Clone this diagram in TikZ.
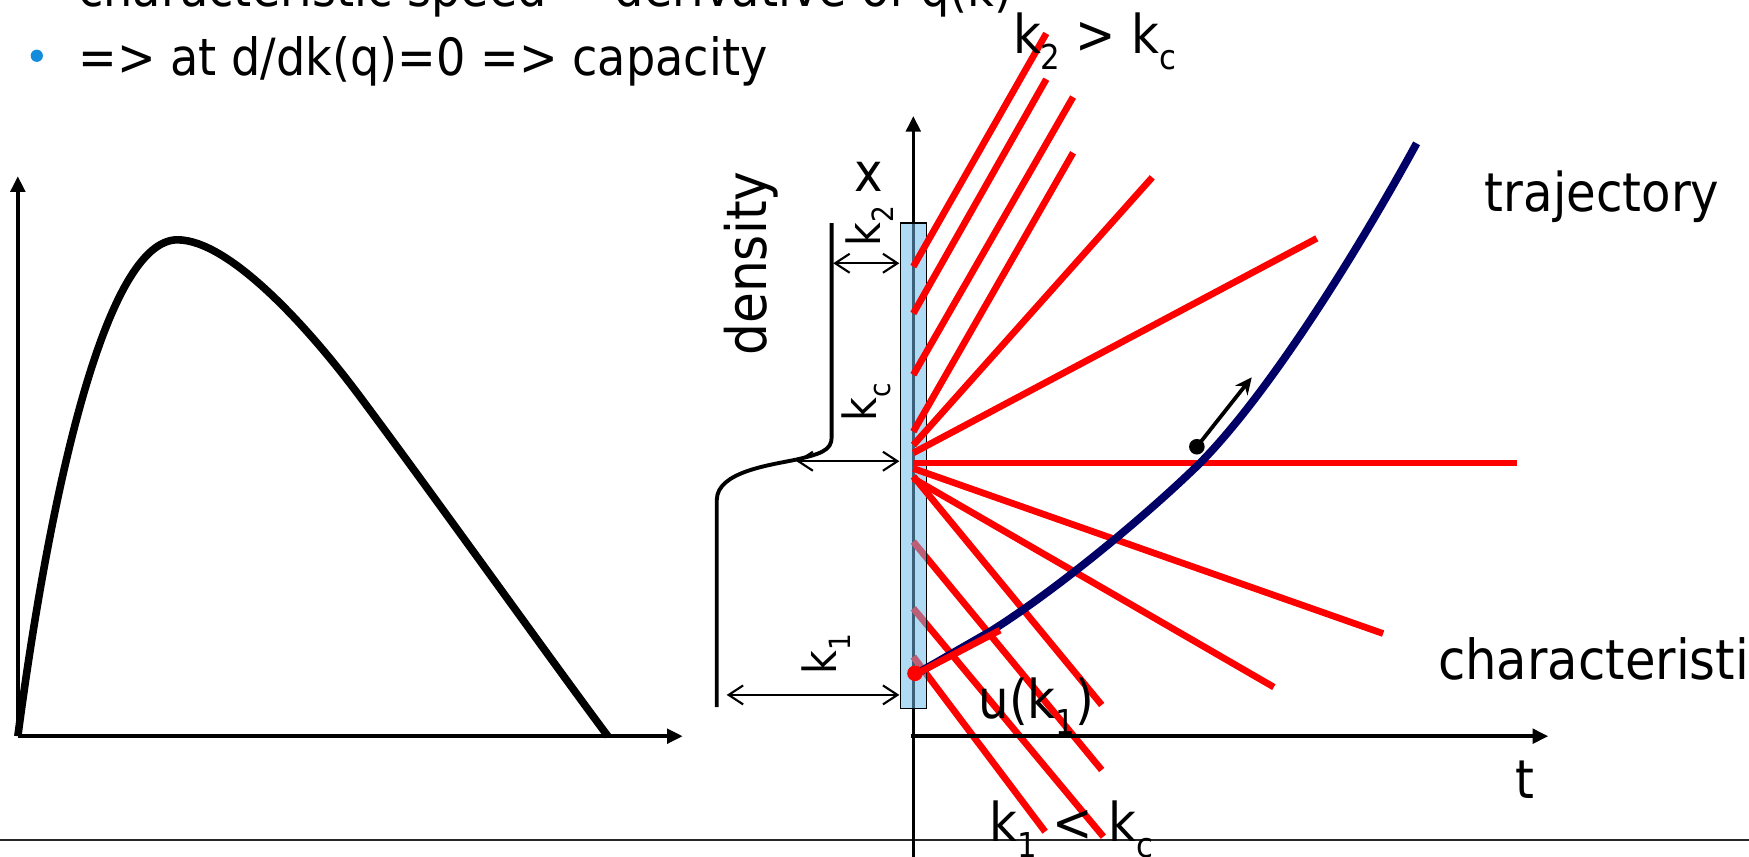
\documentclass[tikz,border=0pt]{standalone}
\usepackage{fontspec}
\setmainfont{DejaVu Sans}[FakeStretch=0.9]
\usetikzlibrary{arrows.meta}
\definecolor{redc}{RGB}{255,0,0}
\definecolor{navyc}{RGB}{0,0,102}
\definecolor{boxblue}{RGB}{175,219,245}
\definecolor{slate}{RGB}{58,96,122}
\definecolor{fadedred}{RGB}{190,95,120}
\definecolor{bulletblue}{RGB}{20,140,220}
\newcommand{\sbs}[1]{\raisebox{-0.3em}{\scalebox{0.64}{#1}}}
\begin{document}
\begin{tikzpicture}[x=1pt,y=-1pt,line cap=butt,
  axisline/.style={line width=3.2pt,-{Triangle[length=14pt,width=13pt]}},
  qcurve/.style={line width=6.8pt,line join=round},
  charline/.style={draw=redc,line width=6pt},
  fadeline/.style={draw=fadedred,line width=6pt},
  traj/.style={draw=navyc,line width=7pt},
  profile/.style={line width=3.5pt,line join=round},
  dimarrow/.style={line width=1.9pt,{Straight Barb[length=13pt,width=17pt]}-{Straight Barb[length=13pt,width=17pt]}},
  lab/.style={inner sep=0pt,anchor=base west,font=\fontsize{48}{48}\selectfont},
  klab/.style={inner sep=0pt,anchor=base west,rotate=90,font=\fontsize{41}{41}\selectfont},
  toptext/.style={inner sep=0pt,anchor=base west,font=\fontsize{46}{46}\selectfont}]
\useasboundingbox (0,0) rectangle (1568,768);
\clip (0,0) rectangle (1568,768);

% ---------- top text ----------
\node[toptext] (line1) at (70,6) {characteristic speed = derivative of q(k)};
\node[circle,fill=bulletblue,minimum size=11pt,inner sep=0pt] (bul) at (33,50) {};
\node[toptext] (line2) at (70,68) {=> at d/dk(q)=0 => capacity};

% ---------- bottom rule ----------
\coordinate (BL) at (0,753);
\coordinate (BR) at (1568,753);
\draw[line width=2pt,black!85] (BL) -- (BR);

% ---------- left graph ----------
\coordinate (O1) at (16,660);
\coordinate (Y1) at (16,158);
\coordinate (X1) at (612,660);
\coordinate (pk) at (159,215);
\coordinate (mid) at (320,352);
\coordinate (qend) at (545,660);
\draw[axisline] (O1) -- (Y1);
\draw[axisline] (O1) -- (X1);
\draw[qcurve] (O1) .. controls (45,440) and (95,215) .. (pk)
  .. controls (205,215) and (275,292) .. (mid)
  .. controls (380,432) and (500,600) .. (qend);

% ---------- right graph: axes ----------
\coordinate (Xbot) at (818.8,770);
\coordinate (Xtop) at (818.8,104);
\coordinate (Tstart) at (817,660);
\coordinate (Tend) at (1388,660);
\draw[axisline] (Xbot) -- (Xtop);

% k1 family lines that start under the box
\coordinate (b0) at (818.8,485.6); \coordinate (b1) at (987.7,690.3);
\coordinate (c0) at (818.8,545.4); \coordinate (c1) at (989.2,750.1);
\coordinate (d0) at (818.8,588.7); \coordinate (d1) at (937,745.6);
\draw[charline] (b0) -- (b1);
\draw[charline] (c0) -- (c1);
\draw[charline] (d0) -- (d1);

% box
\coordinate (R1) at (807.5,200);
\coordinate (R2) at (830.8,635);
\fill[boxblue] (R1) rectangle (R2);
\begin{scope}
  \clip (R1) rectangle (R2);
  \draw[slate,line width=3.2pt] (Xbot) -- (Xtop);
  \draw[fadeline] (b0) -- (b1);
  \draw[fadeline] (c0) -- (c1);
  \draw[fadeline] (d0) -- (d1);
\end{scope}
\draw[line width=1.3pt] (R1) rectangle (R2);

% bright characteristics
\coordinate (L1a) at (818.8,239); \coordinate (L1b) at (938,30);
\coordinate (L2a) at (818.8,281); \coordinate (L2b) at (938,71);
\coordinate (L3a) at (818.8,336); \coordinate (L3b) at (962,87);
\coordinate (L4a) at (818.8,387); \coordinate (L4b) at (962,137);
\coordinate (L5a) at (818.8,399); \coordinate (L5b) at (1033,159);
\coordinate (L6a) at (818.8,406); \coordinate (L6b) at (1180.5,213.7);
\coordinate (Ha) at (818.8,415); \coordinate (Hb) at (1360,415);
\coordinate (D1a) at (818.8,420); \coordinate (D1b) at (1240,568);
\coordinate (D2a) at (818.8,429); \coordinate (D2b) at (1142,616);
\coordinate (Aa) at (818.8,427); \coordinate (Ab) at (987.7,632);
\foreach \p in {L1,L2,L3,L4,L5,L6,H,D1,D2,A}
  \draw[charline] (\p a) -- (\p b);

\draw[axisline] (Tstart) -- (Tend);

% trajectory
\coordinate (tr0) at (820,605);
\coordinate (tr1) at (888,566);
\coordinate (tr2) at (1076,415);
\coordinate (tr3) at (1270,128.5);
\draw[traj] (tr0) -- (tr1) .. controls (950,527) and (1030,460) .. (tr2)
  .. controls (1140,350) and (1220,220) .. (tr3);

% u(k1) segment and red dot
\coordinate (u1) at (896.5,565);
\draw[charline] (tr0) -- (u1);
\node[circle,fill=redc,minimum size=14pt,inner sep=0pt] (rdot) at (820.3,603.6) {};

% black speed arrow
\node[circle,fill=black,minimum size=14pt,inner sep=0pt] (bdot) at (1073,400.5) {};
\coordinate (btip) at (1122.2,338.3);
\draw[line width=3.4pt,-{Stealth[length=15pt,width=14pt]}] (bdot.center) -- (btip);

% ---------- density profile ----------
\coordinate (p0) at (745.6,200);
\coordinate (p1) at (745.6,392);
\coordinate (p2) at (714,412);
\coordinate (p3) at (642.6,448);
\coordinate (p4) at (642.6,634);
\draw[profile] (p0) -- (p1) .. controls (745.6,404) and (735,407) .. (p2)
   .. controls (690,417) and (643,423) .. (p3) -- (p4);

\coordinate (k2l) at (747,236);   \coordinate (k2r) at (806.3,236);
\coordinate (kcl) at (714,413.5); \coordinate (kcr) at (806.3,413.5);
\coordinate (k1l) at (651.5,623); \coordinate (k1r) at (806.3,623);
\draw[dimarrow] (k2l) -- (k2r);
\draw[dimarrow] (kcl) -- (kcr);
\draw[dimarrow] (k1l) -- (k1r);

\node[klab] (lk2) at (789,221) {k\sbs{2}};
\node[klab] (lkc) at (786,378) {k\sbs{c}};
\node[klab] (lk1) at (750,605) {k\sbs{1}};
\node[inner sep=0pt,anchor=base west,rotate=90,font=\fontsize{50}{50}\selectfont] (dens) at (687,319) {density};

% ---------- labels ----------
\node[lab] (xlab) at (766,172) {x};
\node[lab] (tlab) at (1358,716) {t};
\node[lab] (trlab) at (1331,190) {trajectory};
\node[lab,font=\fontsize{49.5}{49.5}\selectfont] (chlab) at (1289,609.6) {characteristics};
\node[lab] (uklab) at (877,644) {u(k\sbs{1})};
\node[lab] (lowlab) at (887,754.6) {k\sbs{1} < k\sbs{c}};
\node[lab] (uplab) at (908,48) {k\sbs{2} > k\sbs{c}};
\end{tikzpicture}
\end{document}
